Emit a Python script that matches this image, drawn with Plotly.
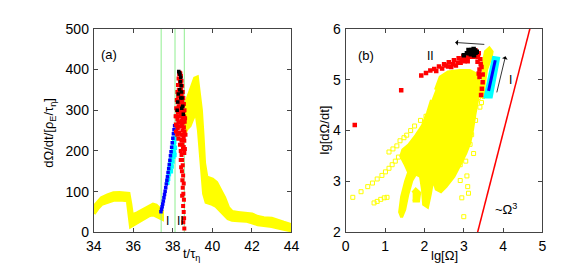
import plotly.graph_objects as go

# ---------------- Panel (a) data ----------------
a_xticks = [34, 36, 38, 40, 42, 44]
a_yticks = [0, 100, 200, 300, 400, 500]
green_t = [37.41, 38.11, 38.58]

# yellow band, segment 1 (34 -> 37.45)
yA_up_t = [34.0, 34.2, 34.4, 34.7, 35.0, 35.3, 35.6, 35.76, 35.85, 35.93, 36.2, 36.5, 36.8, 37.0, 37.15, 37.3, 37.45]
yA_up_y = [62, 75, 84, 91, 96, 97, 96, 95, 70, 42, 47, 55, 64, 68, 66, 60, 52]
yA_lo_t = [34.0, 34.2, 34.4, 34.7, 35.0, 35.3, 35.6, 35.72, 35.88, 35.95, 36.2, 36.5, 36.8, 37.0, 37.15, 37.3, 37.45]
yA_lo_y = [46, 60, 70, 76, 80, 81, 80, 79, 16, 18, 26, 34, 42, 45, 43, 38, 34]

# yellow band, segment 2 (38.55 -> 44)
yC_t = [38.55, 38.7, 38.85, 39.0, 39.12, 39.22, 39.32, 39.42, 39.5, 39.58, 39.7, 39.85, 40.0, 40.2,
        40.4, 40.6, 40.8, 41.0, 41.3, 41.7, 42.0, 42.3, 42.6, 43.0, 43.3, 43.6, 44.0]
yC_up = [300, 322, 342, 362, 378, 380, 345, 300, 240, 170, 135, 132, 130, 122,
         105, 85, 60, 50, 48, 47, 44, 38, 35, 34, 30, 24, 18]
yC_lo = [240, 255, 262, 280, 292, 285, 250, 200, 150, 95, 75, 72, 70, 65,
         55, 45, 35, 31, 30, 29, 25, 20, 18, 16, 13, 9, 5]

blue_t = [37.40, 37.43, 37.46, 37.49, 37.52, 37.55, 37.58, 37.61, 37.64, 37.67, 37.70, 37.73,
          37.76, 37.79, 37.82, 37.85, 37.88, 37.91, 37.94, 37.97, 38.00, 38.03, 38.06, 38.09]
blue_y = [51, 57, 63, 70, 77, 85, 93, 101, 110, 119, 128, 137,
          147, 157, 167, 177, 188, 198, 209, 220, 231, 242, 252, 262]

cyan_t = [37.72, 37.76, 37.80, 37.83, 37.86, 37.89, 37.92, 37.95, 37.98, 38.01, 38.04, 38.07, 38.10,
          37.90, 37.94, 37.98, 38.02, 38.06, 38.10, 38.08]
cyan_y = [122, 132, 143, 151, 160, 169, 178, 187, 196, 205, 214, 222, 232,
          150, 162, 174, 186, 196, 208, 190]

red_t = [38.14, 38.17, 38.20, 38.23, 38.26, 38.29, 38.32, 38.35, 38.38, 38.41, 38.44, 38.47, 38.50, 38.53, 38.56, 38.59,
         38.15, 38.18, 38.21, 38.24, 38.27, 38.30, 38.33, 38.36, 38.39, 38.42, 38.45, 38.48, 38.51, 38.54, 38.57, 38.60,
         38.16, 38.20, 38.23, 38.26, 38.29, 38.32, 38.35, 38.38, 38.41, 38.44, 38.47, 38.50, 38.53, 38.56, 38.59,
         38.22, 38.25, 38.28, 38.31, 38.34, 38.37, 38.40, 38.43, 38.46, 38.49, 38.52, 38.55, 38.58,
         38.28, 38.32, 38.36, 38.39, 38.42, 38.45, 38.48, 38.51, 38.55, 38.58,
         38.36, 38.40, 38.44, 38.47, 38.50, 38.42, 38.46, 38.52, 38.48, 38.55, 38.50, 38.53, 38.47, 38.56,
         38.52, 38.55, 38.57, 38.53, 38.58, 38.62, 38.64, 38.61, 38.44, 38.40]
red_y = [285, 305, 325, 345, 362, 378, 388, 392, 390, 384, 372, 360, 345, 330, 315, 300,
         265, 285, 300, 320, 335, 350, 362, 370, 365, 350, 340, 325, 312, 298, 285, 272,
         248, 262, 278, 295, 310, 322, 335, 342, 320, 305, 295, 282, 270, 258, 248,
         240, 255, 270, 285, 300, 310, 290, 275, 262, 250, 240, 232, 225,
         230, 245, 260, 270, 240, 228, 215, 205, 210, 195,
         215, 200, 190, 178, 165, 160, 150, 140, 128, 120, 110, 95, 90, 80,
         65, 50, 35, 25, 10, 280, 240, 205, 225, 178]

black_t = [38.30, 38.33, 38.36, 38.40, 38.38, 38.42, 38.44, 38.47, 38.35, 38.28, 38.25, 38.22, 38.50, 38.53, 38.45, 38.40]
black_y = [395, 392, 388, 380, 370, 360, 345, 330, 350, 340, 320, 300, 310, 290, 305, 330]

# ---------------- Panel (b) data ----------------
b_xticks = [0, 1, 2, 3, 4, 5]
b_yticks = [2, 3, 4, 5, 6]

blob_x = [2.28, 2.40, 2.60, 2.90, 3.15, 3.35, 3.40, 3.35, 3.28, 3.22, 3.15, 3.05, 2.92, 2.75, 2.55, 2.42,
          2.30, 2.22, 2.15, 2.08, 1.98, 1.95, 1.90, 1.78, 1.68, 1.58, 1.50, 1.42, 1.37, 1.42, 1.52, 1.60,
          1.50, 1.40, 1.45, 1.60, 1.78, 1.95, 2.08, 2.18]
blob_y = [4.80, 5.05, 5.15, 5.18, 5.18, 5.10, 4.90, 4.60, 4.30, 4.00, 3.75, 3.55, 3.35, 3.10, 2.90, 2.80,
          2.85, 3.05, 2.75, 2.50, 2.55, 2.85, 3.10, 3.15, 3.02, 2.75, 2.45, 2.30, 2.40, 2.70, 3.00, 3.18,
          3.35, 3.50, 3.62, 3.72, 3.90, 4.10, 4.35, 4.60]
blob2_x = [1.70, 1.85, 1.88, 1.78, 1.70]
blob2_y = [2.62, 2.62, 2.78, 2.85, 2.78]
blob3_x = [3.42, 3.48, 3.50, 3.55, 3.65, 3.72, 3.70, 3.58, 3.52, 3.50]
blob3_y = [4.65, 5.00, 5.35, 5.55, 5.62, 5.55, 5.45, 5.20, 4.90, 4.62]

ysq_x = [0.18, 0.39, 0.56, 0.68, 0.80, 0.92, 1.01, 1.10, 1.18, 1.26, 1.34,
         1.10, 1.20, 1.30, 1.38, 1.48, 1.55, 1.65, 1.75, 1.90, 2.04, 2.10,
         0.72, 0.80, 0.89, 0.98, 1.05,
         3.00, 2.91, 3.08, 2.95, 3.12, 3.16, 2.91, 3.05, 3.20, 3.41, 3.37, 3.45, 3.50, 3.30, 3.25, 3.10]
ysq_y = [2.69, 2.80, 2.90, 2.97, 3.05, 3.12, 3.19, 3.26, 3.33, 3.40, 3.48,
         3.58, 3.64, 3.70, 3.80, 3.86, 3.91, 4.00, 4.09, 4.20, 4.28, 4.30,
         2.58, 2.61, 2.65, 2.68, 2.69,
         2.31, 3.02, 3.11, 2.68, 2.77, 3.73, 3.33, 3.40, 3.92, 4.46, 4.65, 4.55, 4.72, 4.20, 3.55, 2.90]

redb_x = [1.92, 2.04, 2.15, 2.25, 2.37, 2.50, 2.62, 2.75, 2.87, 2.99, 3.12, 3.22, 3.30, 3.38, 3.42, 3.45,
          3.48, 3.48, 3.46, 3.44,
          2.45, 2.60, 2.72, 2.85, 2.95, 3.05, 3.15, 3.25, 3.35, 3.40, 3.40, 3.10, 2.80, 3.30, 3.36, 2.55,
          2.30, 2.68, 2.92, 3.02, 3.43, 3.38,
          1.41, 0.23]
redb_y = [5.08, 5.13, 5.18, 5.21, 5.26, 5.30, 5.34, 5.38, 5.42, 5.46, 5.51, 5.55, 5.57, 5.52, 5.40, 5.25,
          5.10, 4.95, 4.82, 4.70,
          5.22, 5.26, 5.30, 5.33, 5.38, 5.42, 5.45, 5.45, 5.35, 5.20, 5.05, 5.36, 5.28, 5.48, 5.45, 5.28,
          5.17, 5.25, 5.33, 5.36, 5.30, 5.12,
          4.79, 4.11]

blackb_x = [3.00, 3.08, 3.15, 3.20, 3.25, 3.28, 3.22, 3.30, 3.26, 3.33, 3.18, 3.12]
blackb_y = [5.48, 5.52, 5.55, 5.58, 5.60, 5.57, 5.52, 5.53, 5.48, 5.55, 5.50, 5.58]

cyanb_x = [3.50, 3.71, 3.90, 3.72]
cyanb_y = [4.65, 4.65, 5.43, 5.45]
blueb_x = [3.63, 3.80]
blueb_y = [4.78, 5.38]

omega3_x = [3.35, 4.68]
omega3_y = [2.0, 6.0]

YEL = "#ffff00"
RED = "#ff0000"
CYA = "#00ffff"
BLU = "#0000ff"
GRN = "#90ee90"

fig = go.Figure()

def band(t_up, y_up, t_lo, y_lo, xa, ya):
    fig.add_trace(go.Scatter(x=list(t_up) + list(t_lo)[::-1], y=list(y_up) + list(y_lo)[::-1],
                             fill="toself", fillcolor=YEL, mode="lines",
                             line=dict(color=YEL, width=4), xaxis=xa, yaxis=ya, hoverinfo="skip"))

# panel a
band(yA_up_t, yA_up_y, yA_lo_t, yA_lo_y, "x", "y")
band(yC_t, yC_up, yC_t, yC_lo, "x", "y")
for gt in green_t:
    fig.add_trace(go.Scatter(x=[gt, gt], y=[0, 500], mode="lines", line=dict(color=GRN, width=1),
                             xaxis="x", yaxis="y"))
fig.add_trace(go.Scatter(x=cyan_t, y=cyan_y, mode="markers",
                         marker=dict(symbol="square", size=4.5, color=CYA), xaxis="x", yaxis="y"))
fig.add_trace(go.Scatter(x=blue_t, y=blue_y, mode="markers",
                         marker=dict(symbol="square", size=3.5, color=BLU), xaxis="x", yaxis="y"))
fig.add_trace(go.Scatter(x=red_t, y=red_y, mode="markers",
                         marker=dict(symbol="square", size=4, color=RED), xaxis="x", yaxis="y"))
fig.add_trace(go.Scatter(x=black_t, y=black_y, mode="markers",
                         marker=dict(symbol="square", size=3.5, color="black"), xaxis="x", yaxis="y"))

# panel b
for bx, by in [(blob_x, blob_y), (blob2_x, blob2_y), (blob3_x, blob3_y)]:
    fig.add_trace(go.Scatter(x=bx, y=by, fill="toself", fillcolor=YEL, mode="lines",
                             line=dict(color=YEL, width=3), xaxis="x2", yaxis="y2"))
fig.add_trace(go.Scatter(x=ysq_x, y=ysq_y, mode="markers",
                         marker=dict(symbol="square-open", size=4, color=YEL, line=dict(width=1)),
                         xaxis="x2", yaxis="y2"))
fig.add_trace(go.Scatter(x=cyanb_x, y=cyanb_y, fill="toself", fillcolor=CYA, mode="lines",
                         line=dict(color=CYA, width=2), xaxis="x2", yaxis="y2"))
fig.add_trace(go.Scatter(x=blueb_x, y=blueb_y, mode="lines", line=dict(color=BLU, width=3),
                         xaxis="x2", yaxis="y2"))
fig.add_trace(go.Scatter(x=redb_x, y=redb_y, mode="markers",
                         marker=dict(symbol="square", size=4.5, color=RED), xaxis="x2", yaxis="y2"))
fig.add_trace(go.Scatter(x=blackb_x, y=blackb_y, mode="markers",
                         marker=dict(symbol="square", size=4.5, color="black"), xaxis="x2", yaxis="y2"))
fig.add_trace(go.Scatter(x=omega3_x, y=omega3_y, mode="lines", line=dict(color=RED, width=1.5),
                         xaxis="x2", yaxis="y2"))

FONT = "Liberation Sans, Arial, sans-serif"
axis_common = dict(showline=True, linecolor="#444", linewidth=1, mirror="ticks", ticks="inside",
                   ticklen=4, tickcolor="#444", showgrid=False, zeroline=False,
                   tickfont=dict(family=FONT, size=14, color="black"))

fig.update_layout(
    width=566, height=272, margin=dict(l=0, r=0, t=0, b=0),
    paper_bgcolor="white", plot_bgcolor="white", showlegend=False,
    xaxis=dict(domain=[80 / 566, 283.5 / 566], range=[34, 44], tickvals=a_xticks, anchor="y",
               ticklabelstandoff=1, **axis_common),
    yaxis=dict(domain=[1 - 230 / 272, 1 - 13.5 / 272], range=[0, 500], tickvals=a_yticks, anchor="x",
               ticklabelstandoff=1, **axis_common),
    xaxis2=dict(domain=[339.3 / 566, 541.8 / 566], range=[0, 5], tickvals=b_xticks, anchor="y2",
                ticklabelstandoff=1, **axis_common),
    yaxis2=dict(domain=[1 - 230 / 272, 1 - 13.5 / 272], range=[2, 6], tickvals=b_yticks, anchor="x2",
                ticklabelstandoff=1, **axis_common),
)

ann = []
def txt(x, y, s, xref, yref, size=13, xanchor="center", yanchor="middle", angle=0):
    ann.append(dict(x=x, y=y, text=s, xref=xref, yref=yref, showarrow=False, textangle=angle,
                    xanchor=xanchor, yanchor=yanchor, font=dict(family=FONT, size=size, color="black")))

# axis titles (paper coords)
txt(181 / 566, 1 - 253 / 272, "t/τ<sub>η</sub>", "paper", "paper")
txt(35 / 566, 1 - 124 / 272, "dΩ/dt/[ρ<sub>E</sub>/τ<sub>η</sub>]", "paper", "paper", angle=-90)
txt(440.7 / 566, 1 - 254 / 272, "lg[Ω]", "paper", "paper")
txt(317 / 566, 1 - 121.5 / 272, "lg[dΩ/dt]", "paper", "paper", angle=-90)

# panel labels
txt(34.79, 436, "(a)", "x", "y")
txt(37.75, 28, "I", "x", "y", size=12)
txt(38.39, 28, "II", "x", "y", size=12)
txt(0.51, 5.47, "(b)", "x2", "y2")
txt(2.15, 5.47, "II", "x2", "y2", size=12)
txt(4.2, 5.0, "I", "x2", "y2", size=12)
txt(3.74, 2.47, "~Ω<sup>3</sup>", "x2", "y2", xanchor="left")

# arrows
ann.append(dict(x=2.78, y=5.73, ax=3.56, ay=5.69, xref="x2", yref="y2", axref="x2", ayref="y2",
                showarrow=True, arrowhead=1, arrowsize=1.2, arrowwidth=0.8, arrowcolor="black", text=""))
ann.append(dict(x=4.06, y=5.46, ax=3.83, ay=4.72, xref="x2", yref="y2", axref="x2", ayref="y2",
                showarrow=True, arrowhead=1, arrowsize=1.2, arrowwidth=0.8, arrowcolor="black", text=""))
fig.update_layout(annotations=ann)

fig.write_html("out.html")
